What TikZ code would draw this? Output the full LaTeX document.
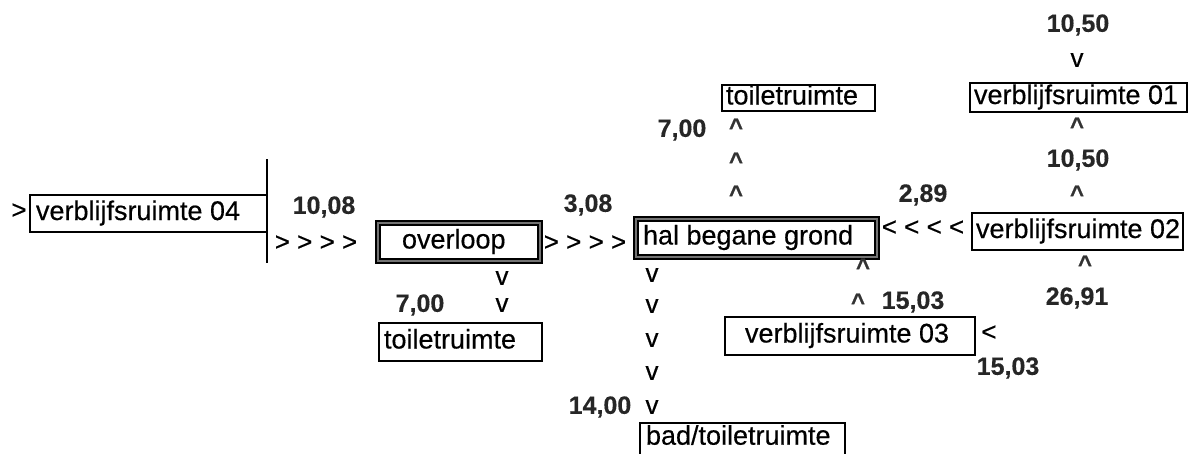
\documentclass[tikz,border=0pt]{standalone}
\usepackage{fontspec}
\setmainfont{Liberation Sans}[FakeBold=0.4]
\begin{document}
\begin{tikzpicture}[x=1pt,y=-1pt,
  every node/.style={inner sep=0pt, font=\fontsize{27}{30}\selectfont},
  box/.style={draw=black, line width=1.6pt, inner ysep=0pt, text height=19pt, text depth=6pt},
  thickbox/.style={box, line width=1.8pt, double=black!55, double distance=2.4pt},
  num/.style={font=\fontsize{25}{30}\selectfont\bfseries, text=black!85},
  sym/.style={font=\fontsize{26}{30}\selectfont},
  car/.style={font=\fontsize{24}{28}\selectfont\bfseries, text=black!80, yshift=-4pt}
]
\useasboundingbox (0,0) rectangle (1189,453);

% left part
\node[sym] (lt) at (19,211) {>};
\node[box, minimum width=237pt, minimum height=37pt, inner xsep=6pt] (v04) at (148.5,213.5) {\makebox[225pt][l]{verblijfsruimte 04}};
\coordinate (bartop) at (267,159);
\coordinate (barbot) at (267,263);
\draw[line width=1.8pt] (bartop) -- (barbot);
\node[num] (n1008) at (324,207) {10,08};
\node[sym] (a1) at (316,243) {> > > >};

% overloop
\node[thickbox, minimum width=162pt, minimum height=38pt, inner xsep=24pt] (ovl) at (459,242) {\makebox[114pt][l]{overloop}};
\node[sym] (a2) at (585,243) {> > > >};
\node[num] (n308) at (588,205) {3,08};
\node[sym] (ov1) at (502,278) {v};
\node[sym] (ov2) at (502,305) {v};
\node[num] (n700a) at (420,305) {7,00};
\node[box, minimum width=163pt, minimum height=38pt, inner xsep=5pt] (t1) at (460.5,342) {\makebox[153pt][l]{toiletruimte}};

% hal begane grond
\node[thickbox, minimum width=241pt, minimum height=38pt, inner xsep=7pt] (hal) at (756.5,238) {\makebox[227pt][l]{hal begane grond}};
\node[sym] (hv1) at (652,275) {v};
\node[sym] (hv2) at (652,306) {v};
\node[sym] (hv3) at (652,340) {v};
\node[sym] (hv4) at (652,373) {v};
\node[sym] (hv5) at (652,407) {v};
\node[num] (n1400) at (600,407) {14,00};
\node[minimum width=205pt, minimum height=30pt, inner xsep=6pt, inner ysep=0pt, text height=19pt, text depth=6pt, anchor=north] (bad) at (742.5,423) {\makebox[193pt][l]{bad/toiletruimte}};
\draw[line width=1.6pt] ([yshift=-20pt]bad.south west) -- (bad.north west) -- (bad.north east) -- ([yshift=-20pt]bad.south east);

% top toiletruimte
\node[box, minimum width=153pt, minimum height=26pt, inner xsep=4pt] (t2) at (798.5,98) {\makebox[145pt][l]{toiletruimte}};
\node[car] (tc1) at (736,123) {\textasciicircum};
\node[car] (tc2) at (736,157) {\textasciicircum};
\node[car] (tc3) at (736,190) {\textasciicircum};
\node[num] (n700b) at (682,130) {7,00};

% verblijfsruimte 02
\node[num] (n289) at (923,195) {2,89};
\node[sym] (a3) at (923,228) {< < < <};
\node[box, line width=2.2pt, minimum width=211pt, minimum height=37pt, inner xsep=4pt] (v02) at (1077.5,231.5) {\makebox[203pt][l]{verblijfsruimte 02}};
\node[car] (hc1) at (863,263) {\textasciicircum};
\node[car] (hc2) at (858,298) {\textasciicircum};
\node[num] (n1503a) at (913,302) {15,03};
\node[car] (vc1) at (1085,260) {\textasciicircum};
\node[num] (n2691) at (1077,298) {26,91};

% verblijfsruimte 03
\node[box, minimum width=250pt, minimum height=38pt, inner xsep=20pt] (v03) at (850,336) {\makebox[210pt][l]{verblijfsruimte 03}};
\node[sym] (lt3) at (989,333) {<};
\node[num] (n1503b) at (1008,368) {15,03};

% verblijfsruimte 01
\node[num] (n1050a) at (1078,25) {10,50};
\node[sym] (vv) at (1077,60) {v};
\node[box, minimum width=217pt, minimum height=29pt, inner xsep=4pt] (v01) at (1078.5,97.5) {\makebox[209pt][l]{verblijfsruimte 01}};
\node[car] (uc1) at (1077,122) {\textasciicircum};
\node[num] (n1050b) at (1078,160) {10,50};
\node[car] (uc2) at (1077,190) {\textasciicircum};
\end{tikzpicture}
\end{document}
